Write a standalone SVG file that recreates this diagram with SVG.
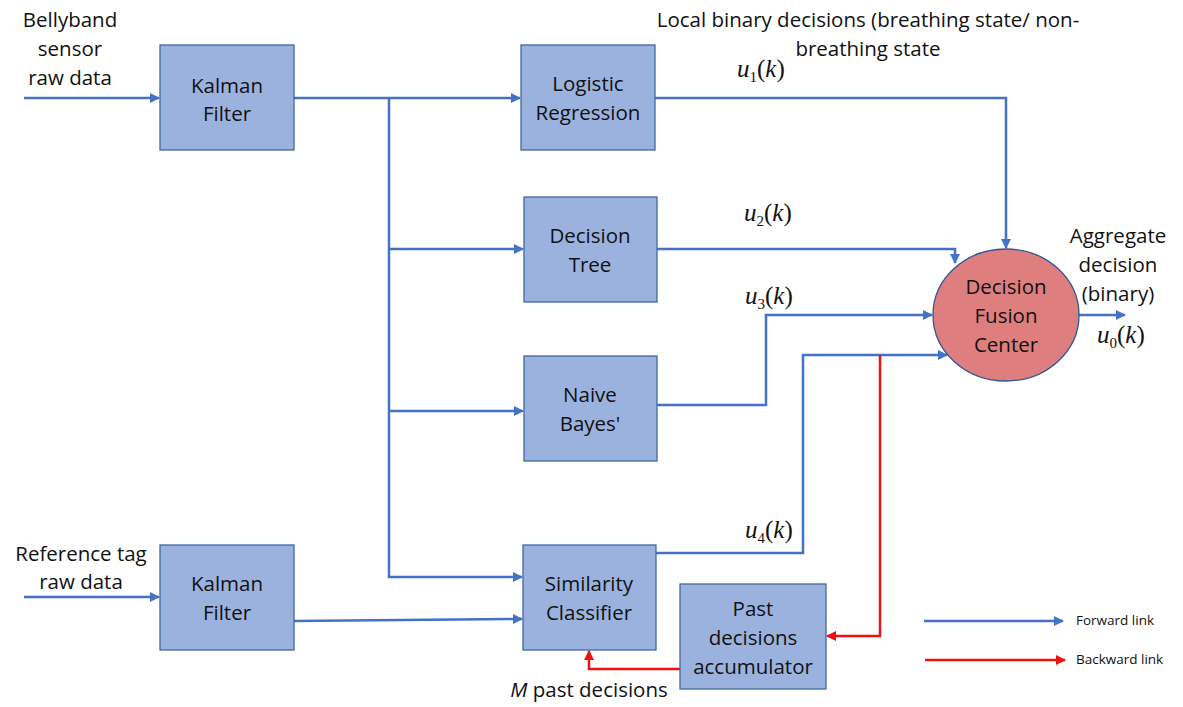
<svg xmlns="http://www.w3.org/2000/svg" width="1183" height="707" viewBox="0 0 1183 707">
<style>
.box{fill:#9cb2de;stroke:#41679f;stroke-width:1.3}
.t{font-family:"Open Sans","Liberation Sans",sans-serif;font-size:20.5px;fill:#111;text-anchor:middle}
.s{font-family:"Open Sans","Liberation Sans",sans-serif;font-size:13.5px;fill:#111}
.m{font-family:"Liberation Serif",serif;font-size:25px;font-style:italic;fill:#111}
.p{font-style:normal}
.sub{font-size:15px;font-style:normal}
.b{fill:none;stroke:#4472c4;stroke-width:2.5}
.r{fill:none;stroke:#ee1111;stroke-width:2.5}
</style>
<defs>
<marker id="ab" viewBox="0 0 10 10" refX="9" refY="5" markerWidth="4" markerHeight="4" orient="auto" markerUnits="strokeWidth"><path d="M0,0 L10,5 L0,10 z" fill="#4472c4"/></marker>
<marker id="ar" viewBox="0 0 10 10" refX="9" refY="5" markerWidth="4" markerHeight="4" orient="auto" markerUnits="strokeWidth"><path d="M0,0 L10,5 L0,10 z" fill="#ee1111"/></marker>
</defs>
<g id="connectors">
<path class="b" d="M24,98 H159" marker-end="url(#ab)"/>
<path class="b" d="M294,98 H520" marker-end="url(#ab)"/>
<path class="b" d="M389,98 V577 H522" marker-end="url(#ab)"/>
<path class="b" d="M389,249 H523" marker-end="url(#ab)"/>
<path class="b" d="M389,411 H523" marker-end="url(#ab)"/>
<path class="b" d="M24,597 H159" marker-end="url(#ab)"/>
<path class="b" d="M294,621 L522,619" marker-end="url(#ab)"/>
<path class="b" d="M655,98 H1006 V248" marker-end="url(#ab)"/>
<path class="b" d="M657,249 H955 V263" marker-end="url(#ab)"/>
<path class="b" d="M657,405 H766 V315 H932" marker-end="url(#ab)"/>
<path class="b" d="M656,553 H803 V355 H947" marker-end="url(#ab)"/>
<path class="b" d="M1079,315 H1125" marker-end="url(#ab)"/>
<path class="r" d="M880,355 V636 H827" marker-end="url(#ar)"/>
<path class="r" d="M680,669 H589 V651" marker-end="url(#ar)"/>
<path class="b" d="M924,621 H1063" marker-end="url(#ab)"/>
<path class="r" d="M925,660 H1065" marker-end="url(#ar)"/>
</g>
<g id="kalman1"><rect class="box" x="160" y="45" width="134" height="105"/><text class="t" x="227" y="93">Kalman</text><text class="t" x="227" y="121">Filter</text></g>
<g id="kalman2"><rect class="box" x="160" y="545" width="134" height="105"/><text class="t" x="227" y="591">Kalman</text><text class="t" x="227" y="620">Filter</text></g>
<g id="logistic"><rect class="box" x="521" y="45" width="134" height="105"/><text class="t" x="588" y="91">Logistic</text><text class="t" x="588" y="120">Regression</text></g>
<g id="tree"><rect class="box" x="524" y="197" width="133" height="105"/><text class="t" x="590" y="243">Decision</text><text class="t" x="590" y="272">Tree</text></g>
<g id="bayes"><rect class="box" x="524" y="356" width="133" height="105"/><text class="t" x="590" y="402">Naive</text><text class="t" x="590" y="431">Bayes'</text></g>
<g id="similarity"><rect class="box" x="523" y="545" width="133" height="105"/><text class="t" x="589" y="591">Similarity</text><text class="t" x="589" y="620">Classifier</text></g>
<g id="accumulator"><rect class="box" x="680" y="584" width="146" height="105"/><text class="t" x="753" y="616">Past</text><text class="t" x="753" y="645">decisions</text><text class="t" x="753" y="674">accumulator</text></g>
<g id="fusion"><ellipse cx="1006" cy="315" rx="73" ry="66" fill="#df7e7e" stroke="#2f5597" stroke-width="1.3"/><text class="t" x="1006" y="294">Decision</text><text class="t" x="1006" y="323">Fusion</text><text class="t" x="1006" y="352">Center</text></g>
<g id="labels">
<text class="t" x="70" y="27">Bellyband</text>
<text class="t" x="70" y="56">sensor</text>
<text class="t" x="70" y="85">raw data</text>
<text class="t" x="81" y="561">Reference tag</text>
<text class="t" x="81" y="589">raw data</text>
<text class="t" x="868" y="27">Local binary decisions (breathing state/ non-</text>
<text class="t" x="868" y="56">breathing state</text>
<text class="t" x="1118" y="243">Aggregate</text>
<text class="t" x="1118" y="272">decision</text>
<text class="t" x="1118" y="301">(binary)</text>
<text class="t" x="589" y="697"><tspan font-style="italic">M</tspan> past decisions</text>
<text class="s" x="1076" y="625">Forward link</text>
<text class="s" x="1076" y="664">Backward link</text>
<text class="m" x="737" y="77">u<tspan class="sub" dy="5">1</tspan><tspan class="p" dy="-5">(</tspan>k<tspan class="p">)</tspan></text>
<text class="m" x="744" y="221">u<tspan class="sub" dy="5">2</tspan><tspan class="p" dy="-5">(</tspan>k<tspan class="p">)</tspan></text>
<text class="m" x="745" y="304">u<tspan class="sub" dy="5">3</tspan><tspan class="p" dy="-5">(</tspan>k<tspan class="p">)</tspan></text>
<text class="m" x="745" y="538">u<tspan class="sub" dy="5">4</tspan><tspan class="p" dy="-5">(</tspan>k<tspan class="p">)</tspan></text>
<text class="m" x="1097" y="343">u<tspan class="sub" dy="5">0</tspan><tspan class="p" dy="-5">(</tspan>k<tspan class="p">)</tspan></text>
</g>
</svg>
